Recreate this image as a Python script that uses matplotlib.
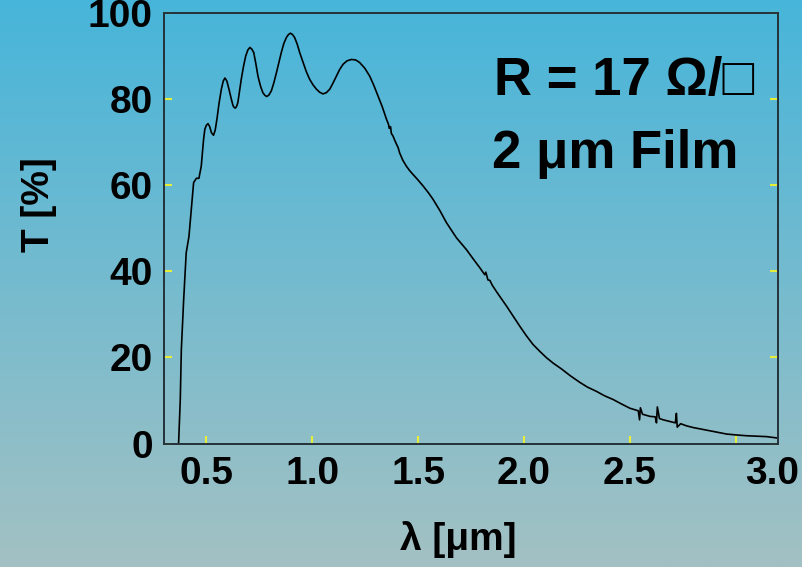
import numpy as np
import matplotlib.pyplot as plt
import matplotlib.transforms as mtransforms

# transmission spectrum
wavelength = [0.369, 0.377, 0.382, 0.393, 0.405, 0.418, 0.429, 0.440, 0.453, 0.465,
              0.476, 0.487, 0.493, 0.500, 0.508, 0.516, 0.524, 0.534, 0.542, 0.550,
              0.560, 0.571, 0.580, 0.588, 0.597, 0.607, 0.617, 0.626, 0.631, 0.637,
              0.643, 0.649, 0.656, 0.665, 0.676, 0.686, 0.696, 0.706, 0.715, 0.724,
              0.734, 0.744, 0.756, 0.767, 0.776, 0.785, 0.795, 0.807, 0.819, 0.831,
              0.843, 0.854, 0.866, 0.878, 0.888, 0.897, 0.907, 0.917, 0.929, 0.941,
              0.957, 0.972, 0.988, 1.004, 1.020, 1.035, 1.051, 1.067, 1.083, 1.098,
              1.114, 1.130, 1.146, 1.165, 1.185, 1.205, 1.224, 1.248, 1.272, 1.291,
              1.311, 1.331, 1.351, 1.360, 1.364, 1.370, 1.374, 1.382, 1.390, 1.406,
              1.413, 1.428, 1.445, 1.460, 1.476, 1.500, 1.524, 1.548, 1.571, 1.603,
              1.634, 1.658, 1.681, 1.705, 1.729, 1.760, 1.792, 1.815, 1.820, 1.830,
              1.839, 1.850, 1.870, 1.894, 1.918, 1.950, 1.981, 2.012, 2.043, 2.075,
              2.107, 2.140, 2.178, 2.220, 2.264, 2.300, 2.343, 2.380, 2.422, 2.460,
              2.500, 2.540, 2.546, 2.550, 2.560, 2.595, 2.620, 2.626, 2.630, 2.640,
              2.658, 2.690, 2.715, 2.720, 2.724, 2.740, 2.768, 2.800, 2.831, 2.862,
              2.894, 2.925, 2.957, 3.000, 3.052, 3.100, 3.146, 3.193]
transmission = [0.0, 10.2, 21.8, 33.4, 44.3, 48.1, 54.3, 60.6, 61.6, 61.6,
                64.4, 70.6, 73.0, 73.9, 74.3, 73.6, 72.2, 71.6, 72.8, 75.3,
                79.0, 82.3, 84.2, 84.9, 84.2, 82.3, 80.2, 78.5, 78.1, 77.9,
                78.3, 79.2, 81.5, 84.6, 87.7, 90.0, 91.4, 92.0, 91.6, 90.8,
                88.2, 85.3, 83.0, 81.5, 80.9, 80.6, 80.9, 81.9, 83.8, 86.1,
                88.6, 90.8, 92.9, 94.3, 95.0, 95.3, 95.0, 94.3, 92.8, 90.8,
                88.5, 86.4, 84.6, 83.3, 82.3, 81.6, 81.2, 81.5, 82.3, 83.7,
                85.3, 86.9, 88.1, 88.9, 89.2, 89.1, 88.5, 87.2, 85.3, 83.2,
                80.7, 78.2, 75.3, 74.2, 73.2, 73.6, 72.0, 71.4, 70.4, 68.7,
                67.5, 65.8, 64.4, 63.4, 62.5, 61.2, 59.8, 58.3, 56.7, 54.1,
                51.3, 49.5, 47.8, 46.4, 45.0, 42.9, 40.8, 39.2, 39.8, 38.0,
                37.9, 36.8, 35.3, 33.6, 31.9, 29.5, 27.2, 25.0, 23.0, 21.4,
                19.9, 18.6, 17.3, 15.7, 14.2, 13.1, 12.1, 11.1, 10.2, 9.2,
                8.2, 7.6, 5.5, 8.3, 6.8, 6.3, 6.2, 4.8, 8.5, 5.8,
                5.5, 5.1, 4.8, 7.0, 3.8, 4.6, 4.1, 3.7, 3.4, 3.1,
                2.8, 2.5, 2.2, 2.0, 1.8, 1.7, 1.6, 1.3]

x_ticks = [0.5, 1.0, 1.5, 2.0, 2.5, 3.0]
y_ticks = [0, 20, 40, 60, 80, 100]

plt.rcParams['font.family'] = ['Liberation Sans', 'DejaVu Sans']
plt.rcParams['font.weight'] = 'bold'

fig = plt.figure(figsize=(8.03, 5.67), dpi=100)

# gradient background over the whole figure
bg = fig.add_axes([0, 0, 1, 1], zorder=-1)
top = np.array([0x47, 0xb5, 0xda]) / 255
bottom = np.array([0xa3, 0xc1, 0xc3]) / 255
t = np.linspace(0, 1, 256)[:, None, None]
grad = top * (1 - t) + bottom * t
bg.imshow(grad, aspect='auto', extent=[0, 1, 0, 1])
bg.axis('off')

ax = fig.add_axes([0.2042, 0.2178, 0.7647, 0.7593])
ax.patch.set_alpha(0)
ax.plot(wavelength, transmission, color='black', lw=1.2)

ax.set_xlim(0.3, 3.2)
ax.set_ylim(0, 100)
ax.set_xticks(x_ticks)
ax.set_xticklabels([f'{v:.1f}' for v in x_ticks])
ax.set_yticks(y_ticks)

for s in ax.spines.values():
    s.set_color('#24323a')
    s.set_linewidth(1.4)

ax.tick_params(axis='both', direction='in', length=6, width=1.5,
               color='#e6ee3a', labelsize=28)
ax.tick_params(axis='x', pad=9)
ax.tick_params(axis='y', right=True, pad=8)
for tk in ax.yaxis.get_major_ticks():
    tk.tick2line.set_color('#24323a')
ax.xaxis.get_major_ticks()[-1].tick1line.set_color('#24323a')

# last x label sits a bit to the right in the reference
lbl = ax.get_xticklabels()[-1]
lbl.set_transform(lbl.get_transform() + mtransforms.ScaledTranslation(0.36, 0, fig.dpi_scale_trans))

ax.set_xlabel('λ [μm]', fontsize=28, fontweight='bold')
ax.set_ylabel('T [%]', fontsize=28, fontweight='bold')
ax.xaxis.set_label_coords(0.48, -0.18)
ax.yaxis.set_label_coords(-0.174, 0.555)

ax.text(0.537, 0.81, 'R = 17 Ω/□', transform=ax.transAxes, fontsize=38, fontweight='bold')
ax.text(0.535, 0.641, '2 μm Film', transform=ax.transAxes, fontsize=38, fontweight='bold')

fig.savefig('out.png', dpi=100)
